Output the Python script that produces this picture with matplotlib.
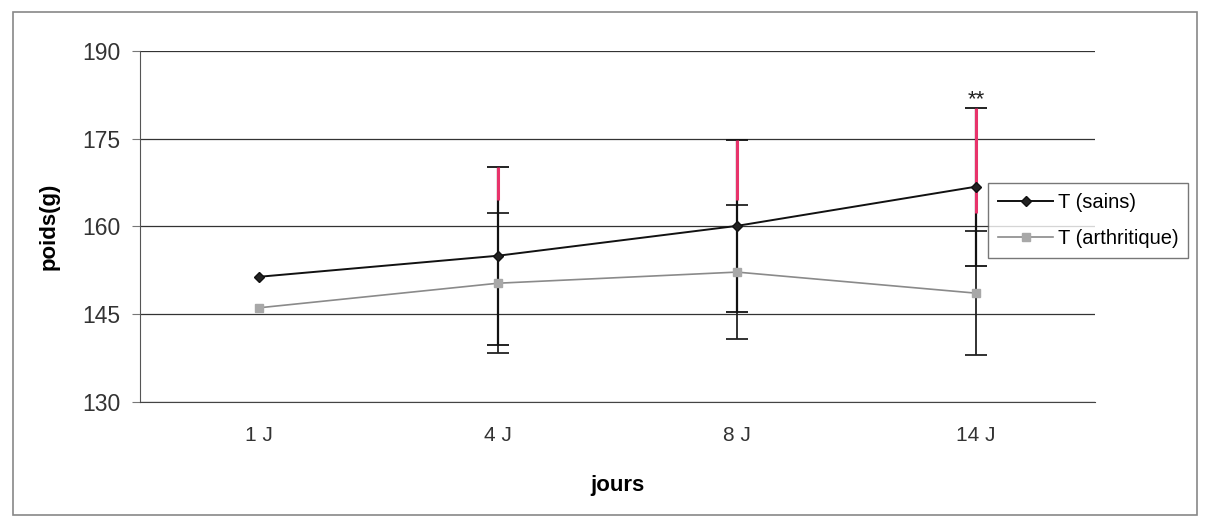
import numpy as np
import matplotlib
matplotlib.use("Agg")
import matplotlib.pyplot as plt
from matplotlib.patches import Rectangle

plt.rcParams['font.family'] = ['Liberation Sans', 'DejaVu Sans']

# data
jours = ['1 J', '4 J', '8 J', '14 J']
sains = [151.4, 155.0, 160.1, 166.8]
sains_sd = [0, 15.2, 14.7, 13.5]
arthr = [146.1, 150.3, 152.2, 148.6]
arthr_sd = [0, 12.0, 11.5, 10.6]
pink_part = [0, 5.6, 10.3, 18.0]   # reddish upper piece of the sains bars (scan colour)
signif = ['', '', '', '**']

x = np.arange(len(jours))

fig = plt.figure(figsize=(12.05, 5.2), dpi=100)
ax = fig.add_axes([0.116, 0.227, 0.793, 0.675])

ax.set_ylim(130, 190)
ax.set_xlim(-0.5, len(jours) - 0.5)
ax.set_yticks([130, 145, 160, 175, 190])
ax.yaxis.grid(True, color='#333333', lw=0.9)
ax.set_axisbelow(True)
for s in ['top', 'right']:
    ax.spines[s].set_visible(False)
ax.spines['left'].set_color('#555555')
ax.spines['bottom'].set_color('#444444')

# error bars
has = np.array(sains_sd) > 0
ax.errorbar(x[has], np.array(arthr)[has], yerr=np.array(arthr_sd)[has], fmt='none',
            ecolor='#222222', elinewidth=1.3, capsize=8, capthick=1.3, zorder=2)
ax.errorbar(x[has], np.array(sains)[has], yerr=np.array(sains_sd)[has], fmt='none',
            ecolor='#111111', elinewidth=1.6, capsize=8, capthick=1.3, zorder=2)
top = np.array(sains) + np.array(sains_sd)
ax.vlines(x[has], (top - np.array(pink_part))[has], top[has], color='#e8336b', lw=2.2, zorder=3)

ax.plot(x, arthr, color='#8a8a8a', lw=1.2, marker='s', ms=6, mfc='#a8a8a8',
        mec='#a8a8a8', label='T (arthritique)', zorder=4)
ax.plot(x, sains, color='#111111', lw=1.4, marker='D', ms=5, mfc='#222222',
        mec='#111111', label='T (sains)', zorder=5)

for xi, t, s in zip(x, top, signif):
    if s:
        ax.text(xi, t - 0.5, s, ha='center', va='bottom', fontsize=16, color='#222222')

ax.set_xticks(x)
ax.set_xticklabels(jours, fontsize=15, color='#333333')
ax.tick_params(axis='y', labelsize=16.5, length=6, color='#777777', labelcolor='#333333', pad=8)
ax.tick_params(axis='x', length=0, pad=17)
ax.set_ylabel('poids(g)', fontsize=16, fontweight='bold', labelpad=16)
ax.set_xlabel('jours', fontsize=16, fontweight='bold', labelpad=22)

h, l = ax.get_legend_handles_labels()
leg = ax.legend(h[::-1], l[::-1], loc='upper left', bbox_to_anchor=(0.888, 0.624),
                fontsize=14.5, frameon=True, fancybox=False, edgecolor='#555555',
                handlelength=2.7, handletextpad=0.25, borderpad=0.5, labelspacing=0.85,
                borderaxespad=0)
leg.get_frame().set_linewidth(1.0)

fig.patches.append(Rectangle((0.011, 0.01), 0.982, 0.967, transform=fig.transFigure,
                             fill=False, edgecolor='#888888', lw=1.2))

fig.savefig('out.png', dpi=100)
